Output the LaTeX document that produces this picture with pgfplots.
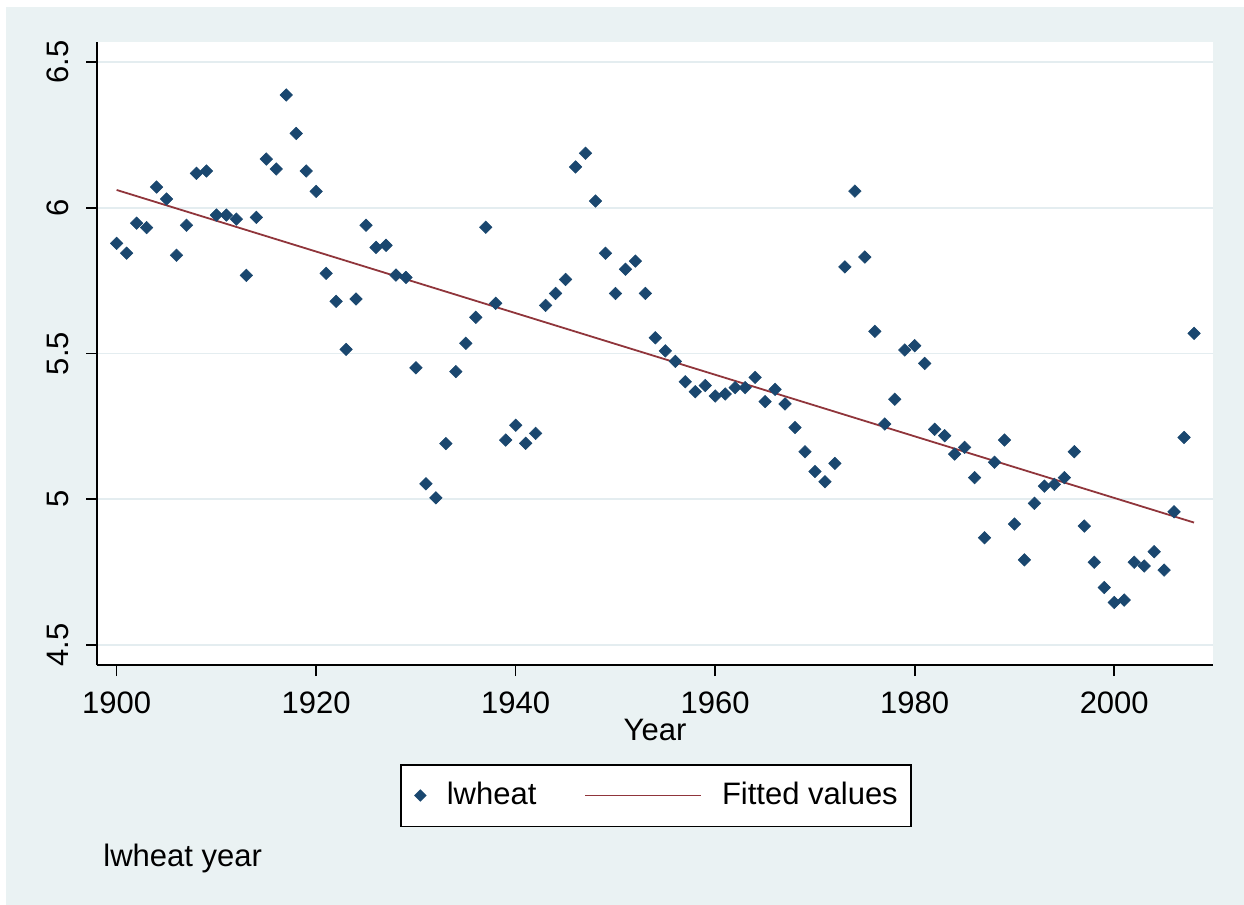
\documentclass[border=0pt]{standalone}
\usepackage{pgfplots}
\pgfplotsset{compat=1.18}
\usepackage{fontspec}
\setmainfont{Liberation Sans}
\definecolor{stbg}{RGB}{234,242,243}
\definecolor{stgrid}{RGB}{228,237,240}
\definecolor{stnavy}{RGB}{26,71,111}
\definecolor{stmaroon}{RGB}{144,53,59}
\pgfplotstableread{
year lwheat
1900 5.878
1901 5.844
1902 5.947
1903 5.932
1904 6.071
1905 6.030
1906 5.837
1907 5.940
1908 6.118
1909 6.126
1910 5.975
1911 5.975
1912 5.961
1913 5.768
1914 5.967
1915 6.167
1916 6.133
1917 6.387
1918 6.255
1919 6.126
1920 6.056
1921 5.775
1922 5.679
1923 5.514
1924 5.687
1925 5.940
1926 5.864
1927 5.871
1928 5.769
1929 5.761
1930 5.451
1931 5.053
1932 5.005
1933 5.191
1934 5.438
1935 5.535
1936 5.624
1937 5.933
1938 5.672
1939 5.203
1940 5.254
1941 5.192
1942 5.226
1943 5.665
1944 5.706
1945 5.754
1946 6.140
1947 6.187
1948 6.023
1949 5.844
1950 5.706
1951 5.789
1952 5.817
1953 5.706
1954 5.554
1955 5.509
1956 5.473
1957 5.403
1958 5.369
1959 5.390
1960 5.354
1961 5.361
1962 5.383
1963 5.383
1964 5.418
1965 5.335
1966 5.377
1967 5.327
1968 5.246
1969 5.163
1970 5.095
1971 5.060
1972 5.123
1973 5.797
1974 6.057
1975 5.831
1976 5.576
1977 5.258
1978 5.343
1979 5.512
1980 5.527
1981 5.466
1982 5.240
1983 5.218
1984 5.155
1985 5.178
1986 5.074
1987 4.868
1988 5.127
1989 5.203
1990 4.915
1991 4.792
1992 4.986
1993 5.045
1994 5.051
1995 5.074
1996 5.163
1997 4.908
1998 4.784
1999 4.697
2000 4.646
2001 4.654
2002 4.784
2003 4.771
2004 4.820
2005 4.757
2006 4.957
2007 5.212
2008 5.569
}\wheatdata
\begin{document}
\fontsize{15.5}{18}\selectfont
\begin{tikzpicture}
\fill[white] (-48.5pt,-120pt) rectangle (573.5pt,332.5pt);
\fill[stbg] (-45.5pt,-120pt) rectangle (573.5pt,329pt);
\begin{axis}[
  at={(0pt,0pt)}, anchor=south west,
  scale only axis, width=558pt, height=311.5pt,
  xmin=1898.03, xmax=2009.9, ymin=4.4314, ymax=6.5686,
  axis lines*=left,
  axis line style={line width=0.8pt, black, -},
  axis background/.style={fill=white},
  xtick={1900,1920,1940,1960,1980,2000},
  xticklabels={1900,1920,1940,1960,1980,2000},
  ytick={4.5,5,5.5,6,6.5},
  yticklabels={4.5,5,5.5,6,6.5},
  tick align=outside, major tick length=5.5pt,
  tick style={line width=0.8pt, black},
  ymajorgrids, major grid style={stgrid, line width=0.9pt},
  tick label style={font=\fontsize{15.5}{18}\selectfont},
  xticklabel style={anchor=north, inner sep=0pt},
  yticklabel style={rotate=90, anchor=south, inner sep=0pt},
  xticklabel shift=7.5pt, yticklabel shift=8.5pt,
  xlabel={Year},
  xlabel style={at={(axis description cs:0.5,0)}, anchor=north, inner sep=0pt, yshift=-27pt, font=\fontsize{15.5}{18}\selectfont},
  legend columns=2,
  legend style={at={(axis description cs:0.5009,-0.2095)}, anchor=center,
    draw=black, line width=0.75pt, fill=white,
    inner xsep=6.7pt, inner ysep=8.6pt,
    nodes={inner sep=0pt},
    font=\fontsize{15.5}{18}\selectfont,
    /tikz/every even column/.append style={column sep=0pt},
    /tikz/every odd column/.append style={column sep=0pt}},
]
\addplot[only marks, mark=square*, mark size=2.2pt,
  mark options={rotate=45, fill=stnavy, draw=stnavy, line width=0.3pt},
  legend image code/.code={\path[draw=none, fill=none] (0pt,0pt) -- (13.2pt,0pt); \fill[stnavy, draw=none, rotate=45] (-2.2pt,-2.2pt) rectangle (2.2pt,2.2pt);}]
  table[x=year, y=lwheat] {\wheatdata};
\addlegendentry{lwheat}
\addplot[stmaroon, line width=0.9pt, no marks,
  legend image code/.code={\path[draw=none, fill=none] (0pt,0pt) -- (92.8pt,0pt); \draw[stmaroon, line width=0.9pt] (24.5pt,0pt) -- (82.5pt,0pt);}]
  coordinates {(1900,6.061) (2008,4.920)};
\addlegendentry{Fitted values\hspace{3.3pt}}
\end{axis}
\node[anchor=base west, inner sep=0pt, font=\fontsize{15.5}{18}\selectfont] at (3pt,-100.5pt) {lwheat year};
\pgfresetboundingbox
\useasboundingbox (-48.5pt,-120pt) rectangle (573.5pt,332.5pt);
\end{tikzpicture}
\end{document}
